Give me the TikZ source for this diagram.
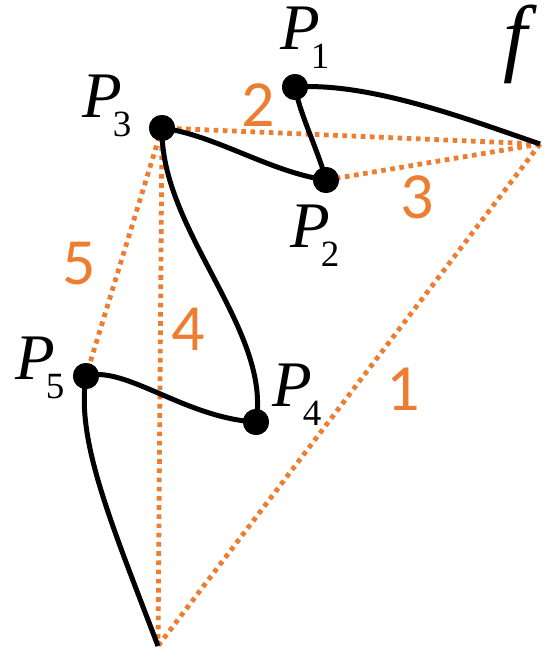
\documentclass[tikz,border=0pt]{standalone}
\usepackage{fontspec}
\setmainfont{Liberation Serif}
\newfontfamily\numfont{Carlito}
\definecolor{lineorange}{HTML}{ED7D31}
\newcommand{\plab}[1]{{\fontsize{65}{65}\selectfont\itshape P}\kern-9pt\raisebox{-19pt}{\fontsize{37}{37}\selectfont #1}}
\tikzset{
  curveline/.style={line width=5pt, black},
  dotline/.style={line width=4.8pt, lineorange, dash pattern=on 4.6pt off 4.6pt},
  ptdot/.style={circle, fill=black, minimum size=26pt, inner sep=0pt},
  plabel/.style={anchor=base west, inner sep=0pt},
  numlabel/.style={anchor=center, inner sep=0pt, text=lineorange, font=\numfont\fontsize{66}{66}\selectfont},
}
\begin{document}
\begin{tikzpicture}[x=1pt, y=-1pt]
\useasboundingbox (0,0) rectangle (551,661);
% points
\node[ptdot] (p1) at (295,87) {};
\node[ptdot] (p2) at (326,180) {};
\node[ptdot] (p3) at (162,128) {};
\node[ptdot] (p4) at (256,422) {};
\node[ptdot] (p5) at (86,376) {};
\coordinate (E) at (540,144);
\coordinate (B) at (158,646);
% orange dotted lines
\draw[dotline] (E) -- (p3.center);
\draw[dotline] (E) -- (p2.center);
\draw[dotline] (E) -- (B);
\draw[dotline] (p3.center) -- (B);
\draw[dotline] (p3.center) -- (p5.center);
% black curve
\draw[curveline] (E) .. controls (470,120) and (370,82) .. (p1.center)
  .. controls (300,115) and (318,150) .. (p2.center)
  .. controls (270,172) and (215,135) .. (p3.center)
  .. controls (160,230) and (272,330) .. (p4.center)
  .. controls (185,418) and (125,365) .. (p5.center)
  .. controls (76,440) and (110,520) .. (B);
% dots on top
\foreach \n in {p1,p2,p3,p4,p5} \fill (\n) circle (13pt);
% labels
\node[plabel] (l1) at (280,49) {\plab{1}};
\node[plabel] (l2) at (290,247) {\plab{2}};
\node[plabel] (l3) at (82,117) {\plab{3}};
\node[plabel] (l4) at (272,406) {\plab{4}};
\node[plabel] (l5) at (15,379) {\plab{5}};
\node[plabel] (lf) at (503,66) {\fontsize{86}{86}\selectfont\itshape f};
\node[numlabel] (n1) at (403,389) {1};
\node[numlabel] (n2) at (258,105) {2};
\node[numlabel] (n3) at (417,197) {3};
\node[numlabel] (n4) at (188,329) {4};
\node[numlabel] (n5) at (79,264) {5};
\end{tikzpicture}
\end{document}
